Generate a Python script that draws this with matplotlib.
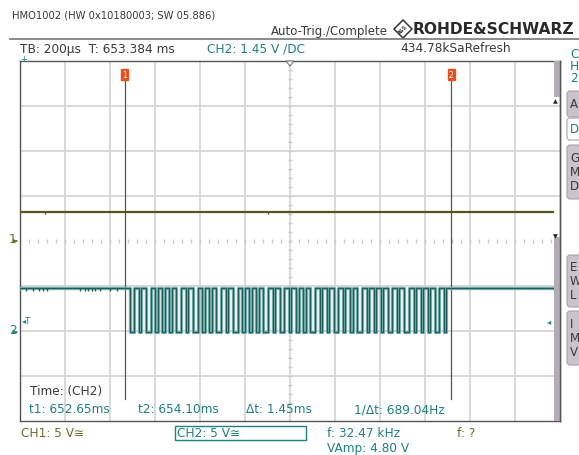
import matplotlib
matplotlib.use("Agg")
import matplotlib.pyplot as plt
from matplotlib.patches import Rectangle, FancyBboxPatch, Polygon
import numpy as np

W, H = 579, 456

# ── values ───────────────────────────────────────────────────────────────────
TB_US = 200            # time base, µs per division
T_CENTER_MS = 653.384  # trigger time at screen centre
T1_MS = 652.65         # cursor 1
T2_MS = 654.10         # cursor 2
CH1_LEVEL = 0.64       # divisions
CH2_LOW = -2.03
CH2_HIGH = -1.05
# CH2 burst between the cursors, equal time slots from t1 to t2
CH2_BITS = ("1100110110011011011011001101100110110110011011001101101101100"
            "1101100110110110110011011011001101101100110110110110011011001"
            "10110110110011011")
# small glitches on the idle CH2 line before the burst (divisions)
CH2_GLITCH_X = [-5.87, -5.71, -5.58, -5.49, -5.40, -4.67, -4.56, -4.49,
                -4.40, -4.33, -4.22, -4.00, -3.84]
CH1_GLITCH_X = [-5.45, -0.5]

# ── colours ──────────────────────────────────────────────────────────────────
TEAL = "#1f8080"
TEAL_TRACE = "#1f5e5c"
TEAL_GLOW = "#7fb3b1"
OLIVE = "#6b6b28"
OLIVE_TRACE = "#55561c"
GRID = "#d6d6d6"
FRAME = "#555555"
TXT = "#3a3a3a"
RED = "#e8501e"
TAB = "#cbc3cb"
FS = 8.7               # screen font size

fig = plt.figure(figsize=(W / 100, H / 100), dpi=100)
fig.patch.set_facecolor("white")

# screen grid area: 12 x 8 divisions, 45 px each, from x=20..560, y=62..422
ax = fig.add_axes([20 / W, (H - 422) / H, 540 / W, 360 / H])
ax.set_xlim(-6, 6)
ax.set_ylim(-4, 4)
ax.set_xticks([])
ax.set_yticks([])
for s in ax.spines.values():
    s.set_color(FRAME)
    s.set_linewidth(1.0)

for gx in range(-5, 6):
    ax.axvline(gx, color=GRID, lw=1.3, zorder=1)
for gy in range(-3, 4):
    if gy != 0:
        ax.axhline(gy, color=GRID, lw=1.3, zorder=1)
minor = np.arange(-6, 6.01, 0.2)
ax.vlines(minor, -0.04, 0.04, color="#c8c8c8", lw=1.0, zorder=1)
minor_y = np.arange(-4, 4.01, 0.2)
ax.hlines(minor_y, -0.05, 0.05, color="#c8c8c8", lw=1.0, zorder=1)

# cursors
x1 = (T1_MS - T_CENTER_MS) * 1000 / TB_US
x2 = (T2_MS - T_CENTER_MS) * 1000 / TB_US
for cx in (x1, x2):
    ax.plot([cx, cx], [3.55, -3.5], color=FRAME, lw=0.9, zorder=3)

x_end = 5.84
# CH1
ax.plot([-6, x_end], [CH1_LEVEL, CH1_LEVEL], color=OLIVE_TRACE, lw=1.6, zorder=4)
ax.vlines(CH1_GLITCH_X, CH1_LEVEL - 0.05, CH1_LEVEL, color=OLIVE_TRACE, lw=1.0, zorder=4)

# CH2 (light halo under a dark core, like the scope's intensity grading)
n = len(CH2_BITS)
tt = np.linspace(x1, x2, n + 1)
lv = [CH2_HIGH if b == "1" else CH2_LOW for b in CH2_BITS]
xs = np.concatenate([[-6], tt, [x_end]])
ys = np.concatenate([[CH2_HIGH], lv, [CH2_HIGH, CH2_HIGH]])
ax.step(xs, ys, where="post", color=TEAL_GLOW, lw=2.4, zorder=4)
ax.step(xs, ys, where="post", color=TEAL_TRACE, lw=0.9, zorder=4)
ax.vlines(CH2_GLITCH_X, CH2_HIGH - 0.06, CH2_HIGH, color=TEAL_TRACE, lw=1.0, zorder=4)

# ── overlay in pixel coordinates ─────────────────────────────────────────────
ov = fig.add_axes([0, 0, 1, 1], zorder=5)
ov.set_xlim(0, W)
ov.set_ylim(H, 0)
ov.axis("off")

def txt(x, y, s, c=TXT, size=FS, **kw):
    ov.text(x, y, s, color=c, fontsize=size, va="center", ha="left", **kw)

txt(12, 15, "HMO1002 (HW 0x10180003; SW 05.886)", size=7.2)
txt(271, 31, "Auto-Trig./Complete", size=8.5)
ov.add_patch(Polygon([[403, 21], [412, 30], [403, 39], [394, 30]], closed=True,
                     fill=False, ec="#333333", lw=1.1))
ov.text(403, 30, "R&S", fontsize=3.4, color="#333333", ha="center", va="center",
        rotation=45, fontweight="bold")
txt(413, 29, "ROHDE&SCHWARZ", c="#2a2a2a", size=11.2, fontweight="bold")
ov.plot([10, 579], [39.5, 39.5], color="#777777", lw=1.2)

txt(20, 49, "TB: 200µs  T: 653.384 ms")
txt(207, 49, "CH2: 1.45 V /DC", c=TEAL)
txt(400, 49, "434.78kSaRefresh")
for yy, ch in zip((55, 67, 79), "CH2"):
    txt(570, yy, ch, c=TEAL)

# trigger marker, CH markers
ov.add_patch(Polygon([[286, 62], [294, 62], [290, 67]], closed=True,
                     fc="white", ec="#777777", lw=0.8))
txt(20, 60, "+", c=TEAL, size=6)
txt(9, 240, "1", c=OLIVE)
ov.annotate("", xy=(20, 242), xytext=(14, 242),
            arrowprops=dict(arrowstyle="-|>", color=OLIVE, lw=0.8, mutation_scale=5))
txt(9, 331, "2", c=TEAL)
ov.annotate("", xy=(20, 333), xytext=(14, 333),
            arrowprops=dict(arrowstyle="-|>", color=TEAL, lw=0.8, mutation_scale=5))
txt(22, 322, "◂T", c=TEAL, size=6)
txt(547, 322, "◂", c=TEAL, size=6)

# cursor flags
for cx, lab in ((x1, "1"), (x2, "2")):
    px = 290 + cx * 45
    ov.add_patch(Rectangle((px - 3.5, 70), 7, 11, fc=RED, ec=RED))
    ov.text(px, 75.5, lab, color="white", fontsize=5.5, ha="center", va="center")

# scroll bar and side tabs
ov.add_patch(Rectangle((554, 62), 6, 36, fc="#b4acb4", ec="none"))
ov.add_patch(Rectangle((554, 238), 6, 184, fc="#b4acb4", ec="none"))
ov.plot([560, 560], [62, 422], color=FRAME, lw=1.0)
txt(553, 102, "▲", c="#222222", size=4.5)
txt(553, 237, "▼", c="#222222", size=4.5)

tabs = [(92, 118, "A", TAB, TXT), (119, 141, "D", "white", TEAL),
        (146, 200, "G\nM\nD", TAB, TXT), (256, 308, "E\nW\nL", TAB, TXT),
        (312, 366, "I\nM\nV", TAB, TXT)]
for y0, y1, lab, fc, tc in tabs:
    ov.add_patch(FancyBboxPatch((567, y0), 20, y1 - y0,
                                boxstyle="round,pad=0,rounding_size=3",
                                fc=fc, ec="#aaa2aa", lw=0.8))
    ov.text(570, (y0 + y1) / 2, lab, color=tc, fontsize=8.5, ha="left",
            va="center", linespacing=1.1)

# measurement texts inside the screen
txt(30, 392, "Time: (CH2)")
txt(29, 410, "t1: 652.65ms", c=TEAL)
txt(138, 410, "t2: 654.10ms", c=TEAL)
txt(246, 410, "Δt: 1.45ms", c=TEAL)
txt(354, 410, "1/Δt: 689.04Hz", c=TEAL)

# status line
txt(21, 434, "CH1: 5 V≅", c=OLIVE)
ov.add_patch(Rectangle((175, 427), 131, 14, fc="white", ec=TEAL, lw=1.0))
txt(177, 434, "CH2: 5 V≅", c=TEAL)
txt(327, 434, "f: 32.47 kHz", c=TEAL)
txt(327, 449, "VAmp: 4.80 V", c=TEAL)
txt(457, 434, "f: ?", c=OLIVE)

fig.savefig("out.png", dpi=100, facecolor="white")
